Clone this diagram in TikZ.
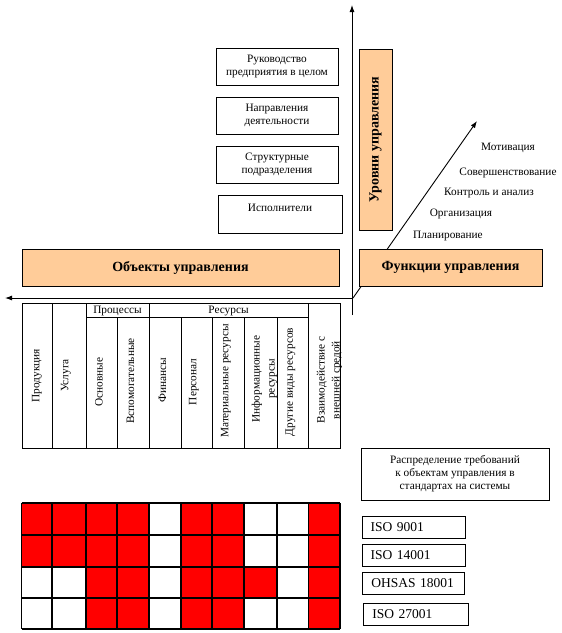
\documentclass[tikz,border=0pt]{standalone}
\usepackage{fontspec}
\setmainfont{Liberation Serif}
\usetikzlibrary{arrows.meta}
\definecolor{boxorange}{RGB}{255,204,153}
\definecolor{cellred}{RGB}{255,0,0}
\begin{document}
\begin{tikzpicture}[x=1pt,y=-1pt,
  small/.style={font=\fontsize{11.3}{13}\selectfont},
  every node/.style={small, inner sep=0pt},
  box/.style={draw, line width=1pt, align=center},
  obox/.style={draw, line width=1pt, fill=boxorange, font=\fontsize{14}{16}\selectfont\bfseries},
  axisline/.style={line width=0.9pt, -{Latex[length=7pt,width=5pt]}},
  tline/.style={line width=0.9pt},
  gline/.style={line width=1.3pt},
  rot/.style={rotate=90, align=center, font=\fontsize{11.3}{15}\selectfont},
  isobox/.style={draw, line width=1pt, anchor=west, minimum height=22pt, inner xsep=8.5pt, align=left, font=\fontsize{13.5}{15}\selectfont}
]
\useasboundingbox (0,0) rectangle (562,633);

% axes
\coordinate (vbot) at (352,315);
\coordinate (vtop) at (352,5);
\coordinate (origin) at (353,298);
\coordinate (hstart) at (352,298);
\coordinate (hend) at (5,298);
\coordinate (dtip) at (477,121);
\draw[axisline] (vbot) -- (vtop);
\draw[axisline] (hstart) -- (hend);
\draw[axisline] (origin) -- (dtip);

% level boxes
\node[box, minimum width=122pt, minimum height=37pt] (ruk) at (277,66.5) {Руководство\\предприятия в целом};
\node[box, minimum width=122pt, minimum height=37pt] (nap) at (277,115.5) {Направления\\деятельности};
\node[box, minimum width=122pt, minimum height=37pt] (str) at (277,164.5) {Структурные\\подразделения};
\node[box, minimum width=124pt, minimum height=38pt] (isp) at (280,214) {};
\node (ispt) at (280,208) {Исполнители};

% orange boxes
\node[obox, minimum width=33pt, minimum height=181pt] (urov) at (375.5,139.5) {};
\node[rotate=90, font=\fontsize{14}{16}\selectfont\bfseries] (urovt) at (urov.center) {Уровни управления};
\node[obox, minimum width=183pt, minimum height=37pt] (func) at (450.5,267.5) {Функции управления};
\node[obox, minimum width=317pt, minimum height=37pt] (obj) at (180.5,267.5) {Объекты управления};

% function labels
\node (f5) at (508,148) {Мотивация};
\node (f4) at (508,173) {Совершенствование};
\node (f3) at (489,193) {Контроль и анализ};
\node (f2) at (461,214) {Организация};
\node (f1) at (448,236) {Планирование};

% table of objects
\draw[tline] (22,303) rectangle (340,448);
\foreach \x in {52,86,149,308} \draw[tline] (\x,303) -- (\x,448);
\foreach \x in {117,181,212,244,277} \draw[tline] (\x,317) -- (\x,448);
\draw[tline] (86,317) -- (308,317);
\node (hproc) at (117.5,311) {Процессы};
\node (hres) at (228.5,311) {Ресурсы};
\node[rot] (c1) at (37,375.5) {Продукция};
\node[rot] (c2) at (66,375.5) {Услуга};
\node[rot] (c3) at (99,382) {Основные};
\node[rot] (c4) at (130.5,381) {Вспомогательные};
\node[rot] (c5) at (162.5,380) {Финансы};
\node[rot] (c6) at (194,382) {Персонал};
\node[rot] (c7) at (226,381) {Материальные ресурсы};
\node[rot] (c8) at (264.5,379) {Информационные\\ресурсы};
\node[rot] (c9) at (290.5,382) {Другие виды ресурсов};
\node[rot] (c10) at (329.5,380) {Взаимодействие с\\внешней средой};

% requirements box
\node[box, minimum width=188pt, minimum height=52pt] (req) at (455,474) {Распределение требований\\к объектам управления в\\стандартах на системы};

% grid
\fill[cellred] (21.5,503) rectangle (149,567);
\fill[cellred] (86,567) rectangle (149,629);
\fill[cellred] (181,503) rectangle (244,629);
\fill[cellred] (244,567) rectangle (277,598);
\fill[cellred] (308.5,503) rectangle (340,629);
\foreach \y in {503,535,567,598,629} \draw[gline] (21.5,\y) -- (340,\y);
\foreach \x in {21.5,52,86,117,149,181,212,244,277,308.5,340} \draw[gline] (\x,503) -- (\x,629);

% standards
\node[isobox, text width=86pt] (iso9) at (361.7,527.5) {ISO 9001};
\node[isobox, text width=86pt] (iso14) at (361.7,555) {ISO 14001};
\node[isobox, text width=85pt] (ohsas) at (362.3,583.5) {OHSAS 18001};
\node[isobox, text width=88pt] (iso27) at (363.3,614) {ISO 27001};
\end{tikzpicture}
\end{document}
